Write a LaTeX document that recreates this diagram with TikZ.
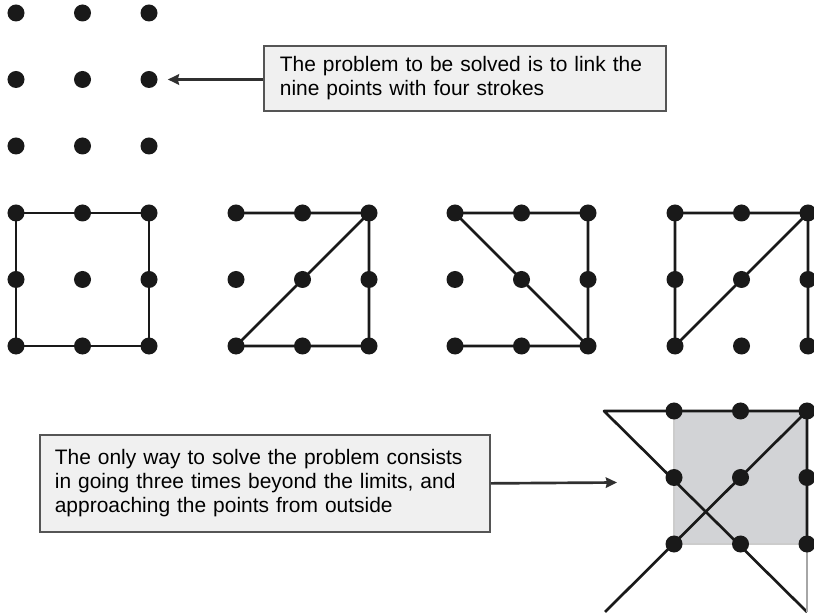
\documentclass[tikz,border=0pt]{standalone}
\usepackage{fontspec}
\setmainfont{Liberation Sans}
\usetikzlibrary{positioning, arrows.meta, backgrounds}
\definecolor{boxfill}{RGB}{240,240,240}
\definecolor{boxline}{RGB}{85,85,85}
\definecolor{squarefill}{RGB}{210,211,214}
\definecolor{ink}{RGB}{25,25,25}
\tikzset{
    x=0.025cm, y=-0.025cm, % one unit is one pixel of the page
    dot/.style={circle, fill=ink, inner sep=0pt, minimum size=0.425cm}, % the nine points
    stroke/.style={draw=ink, line width=1.9pt, line join=round}, % the strokes through the points
    textbox/.style={draw=boxline, fill=boxfill, line width=1.2pt, align=left, font=\fontsize{14.9}{17.1}\selectfont},
    pointer/.style={->, draw=ink!90, line width=1.9pt}, % arrows from the boxes
    >={Stealth[length=0.28cm, width=0.26cm, inset=0.03cm]},
}
% nine points: name, x and y of the top left point
\newcommand{\ninedots}[3]{
    \foreach \c in {0,1,2}
        \foreach \r in {0,1,2}
            \node[dot] (#1-\c\r) at ({#2+66.5*\c},{#3+66.5*\r}) {};
}

\begin{document}
\begin{tikzpicture}
    \useasboundingbox (0,0) rectangle (814,615);
    \ninedots{p}{16}{13}
    \ninedots{a}{16}{213}
    \ninedots{b}{236}{213}
    \ninedots{c}{455}{213}
    \ninedots{d}{675}{213}
    \ninedots{s}{674}{411}
    \coordinate (tl) at (604,411);
    \coordinate (bl) at (605,612);
    \coordinate (br) at (807,612);
    \coordinate (aim) at (617,482.5);

    \node[textbox, anchor=north west, inner xsep=0.4cm, text width=9.25cm, minimum height=1.625cm] (prob) at (263,45)
        {The problem to be solved is to link the\\nine points with four strokes};
    \node[textbox, anchor=north west, inner xsep=0.375cm, text width=10.5cm, minimum height=2.425cm] (sol) at (39,434)
        {The only way to solve the problem consists\\in going three times beyond the limits, and\\approaching the points from outside};

    \draw[pointer, shorten >=0.25cm] (prob.west |- p-21) -- (p-21);
    \draw[pointer] (sol.east) -- (aim);

    \begin{scope}[on background layer]
        \draw[stroke] (a-00.center) rectangle (a-22.center);
        \draw[stroke] (b-00.center) -- (b-20.center) -- (b-22.center) -- (b-02.center) -- (b-20.center);
        \draw[stroke] (c-02.center) -- (c-22.center) -- (c-20.center) -- (c-00.center) -- (c-22.center);
        \draw[stroke] (d-22.center) -- (d-20.center) -- (d-00.center) -- (d-02.center) -- (d-20.center);
        % the way out of the square
        \draw[fill=squarefill, draw=gray!40, line width=0.8pt] (s-00.center) rectangle (s-22.center);
        \draw[stroke] (s-20.center) -- (tl) -- (br);
        \draw[stroke, draw=gray!70] (br) -- (s-22.center);
        \draw[stroke] (s-22.center) -- (s-20.center) -- (bl);
    \end{scope}
\end{tikzpicture}
\end{document}
